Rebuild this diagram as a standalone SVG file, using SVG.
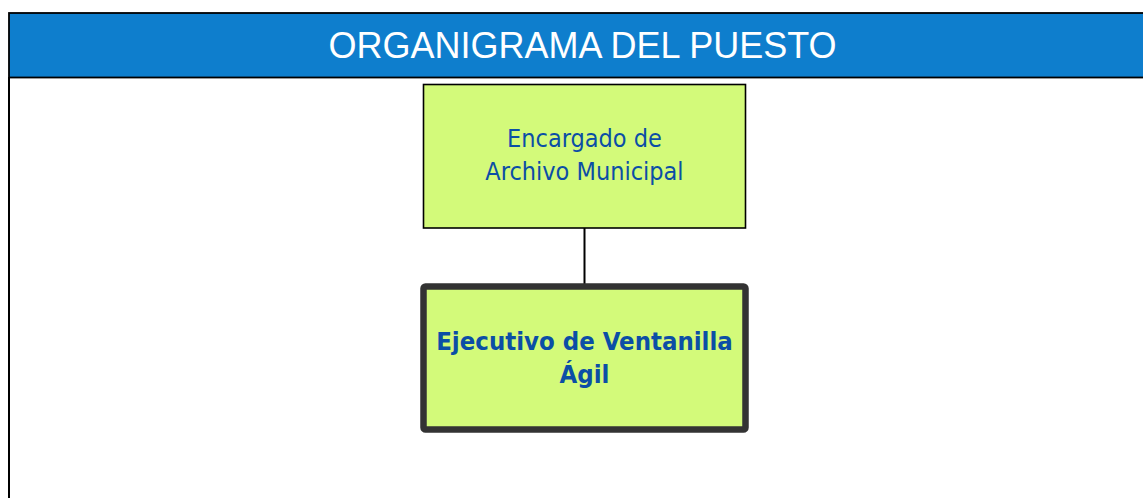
<svg xmlns="http://www.w3.org/2000/svg" width="1143" height="498" viewBox="0 0 1143 498">
<style>
.title{font-family:"Liberation Sans",Arial,sans-serif;font-size:36px;fill:#ffffff;text-anchor:middle}
.n1{font-family:"DejaVu Sans Condensed","DejaVu Sans",sans-serif;font-stretch:condensed;font-size:25px;fill:#0B4EA6;text-anchor:middle}
.n2{font-family:"DejaVu Sans Condensed","DejaVu Sans",sans-serif;font-stretch:condensed;font-weight:bold;font-size:25.5px;fill:#0B4EA6;text-anchor:middle}
.box{fill:#D3FA7A}
</style>
<rect width="1143" height="498" fill="#ffffff"/>
<g id="frame">
<rect x="9" y="13" width="1140" height="64.5" fill="#0E7ECD" stroke="#000" stroke-width="1.8"/>
<line x1="9" y1="77" x2="9" y2="498" stroke="#000" stroke-width="2"/>
<text class="title" x="582.5" y="58">ORGANIGRAMA DEL PUESTO</text>
</g>
<g id="connectors">
<line x1="584.5" y1="228" x2="584.5" y2="286" stroke="#000" stroke-width="2"/>
</g>
<g id="node-encargado">
<rect class="box" x="423.5" y="84.5" width="322" height="143.5" stroke="#000" stroke-width="1.6"/>
<text class="n1" x="584.5" y="147">Encargado de</text>
<text class="n1" x="584.5" y="180">Archivo Municipal</text>
</g>
<g id="node-ejecutivo">
<rect class="box" x="423.5" y="286.5" width="322" height="143" rx="2" stroke="#333333" stroke-width="6.5"/>
<text class="n2" x="584.5" y="350">Ejecutivo de Ventanilla</text>
<text class="n2" x="584.5" y="383">Ágil</text>
</g>
</svg>
